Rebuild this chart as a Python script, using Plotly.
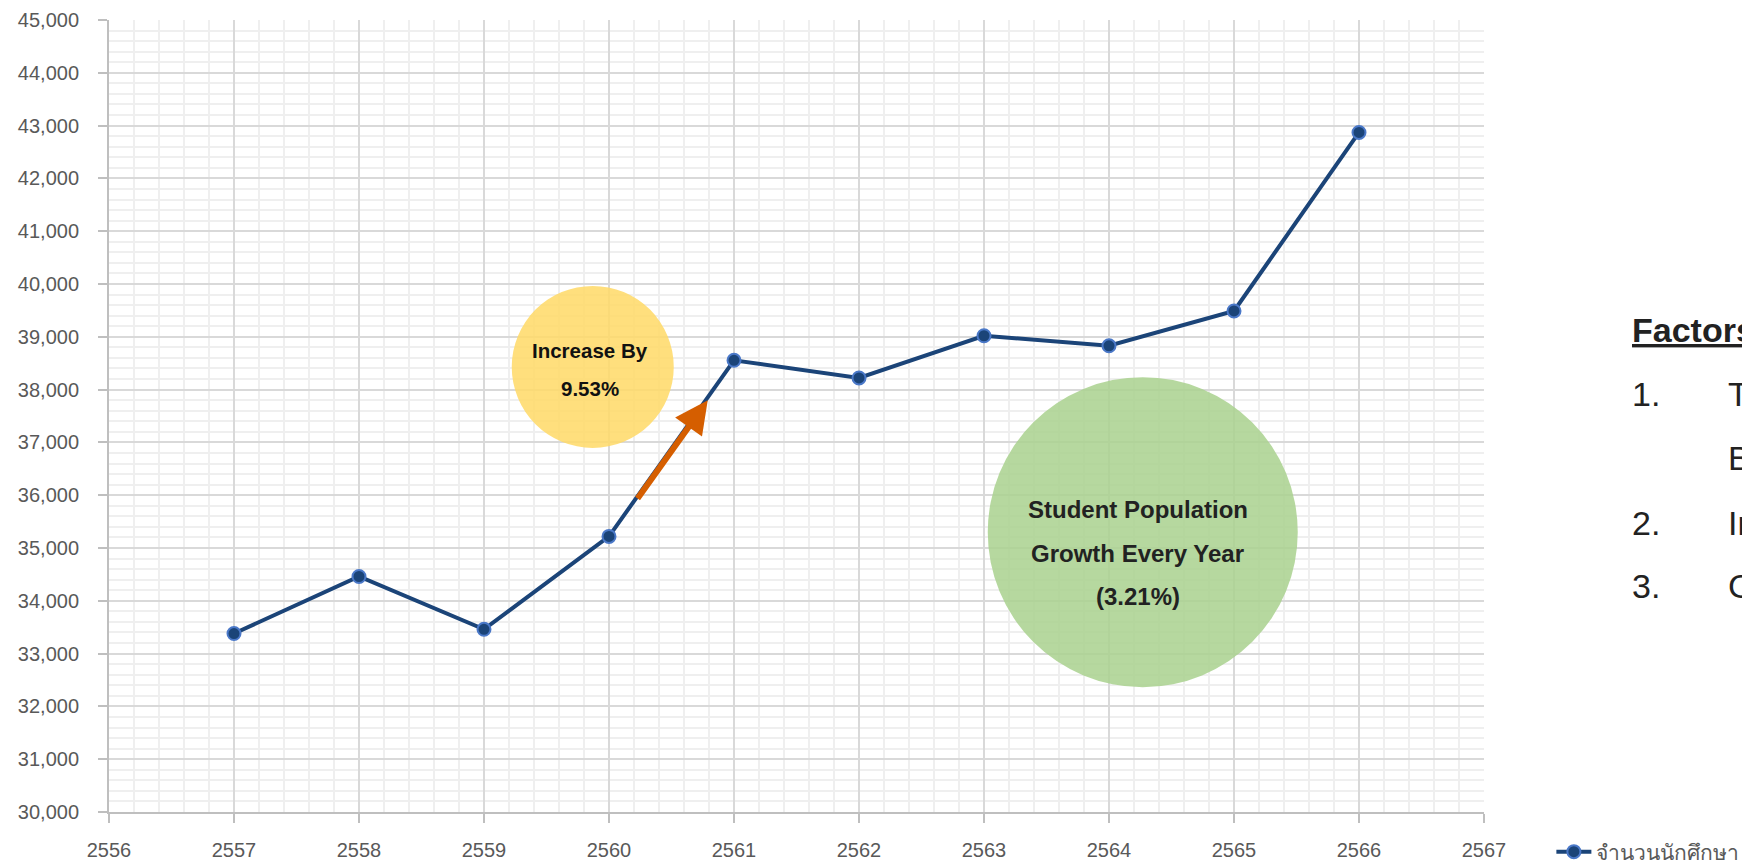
import plotly.graph_objects as go

years = [2557, 2558, 2559, 2560, 2561, 2562, 2563, 2564, 2565, 2566]
students = [33380, 34460, 33460, 35220, 38555, 38220, 39020, 38830, 39490, 42870]
series_name = "จำนวนนักศึกษา"

yellow_lines = ["Increase By", "9.53%"]
green_lines = ["Student Population", "Growth Every Year", "(3.21%)"]
factors_title = "Factors"
factor_nums = ["1.", "2.", "3."]
factor_items = ["T", "In", "C"]
factor_cont = "B"

fig = go.Figure()
fig.add_trace(go.Scatter(
    x=years, y=students, mode="lines+markers", name=series_name,
    line=dict(color="#1B4478", width=4),
    marker=dict(size=13, color="#1B4478", line=dict(color="#4A78C8", width=2)),
))

# circles
fig.add_shape(type="circle", xref="x", yref="y",
              x0=2559.870 - 0.648, x1=2559.870 + 0.648,
              y0=38430 - 1534, y1=38430 + 1534,
              fillcolor="#FFD966", opacity=0.85, line=dict(width=0), layer="above")
fig.add_shape(type="circle", xref="x", yref="y",
              x0=2564.27 - 1.24, x1=2564.27 + 1.24,
              y0=35300 - 2936, y1=35300 + 2936,
              fillcolor="#A9D18E", opacity=0.85, line=dict(width=0), layer="above")

for txt, yy in zip(yellow_lines, [38748, 38028]):
    fig.add_annotation(x=2559.85, y=yy, xref="x", yref="y", text="<b>" + txt + "</b>",
                       showarrow=False, font=dict(family="Liberation Sans", size=20.5, color="#111111"))
for txt, yy in zip(green_lines, [35720, 34900, 34080]):
    fig.add_annotation(x=2564.23, y=yy, xref="x", yref="y", text="<b>" + txt + "</b>",
                       showarrow=False, font=dict(family="Liberation Sans", size=24, color="#222222"))

# arrow
fig.add_annotation(x=2560.79, y=37800, ax=2560.22, ay=35910, xref="x", yref="y",
                   axref="x", ayref="y", text="", showarrow=True,
                   arrowhead=2, arrowsize=1.1, arrowwidth=6, arrowcolor="#D55E00")

# factors text
tfont = dict(family="Liberation Sans", size=34, color="#222222")
fig.add_annotation(x=1.106, y=0.6085, xref="paper", yref="paper", xanchor="left", yanchor="middle",
                   text="<b><u>" + factors_title + "</u></b>", showarrow=False, font=tfont)
ys = [0.5275, 0.3645, 0.2855]
for n, it, yy in zip(factor_nums, factor_items, ys):
    fig.add_annotation(x=1.106, y=yy, xref="paper", yref="paper", xanchor="left", yanchor="middle",
                       text=n, showarrow=False, font=tfont)
    fig.add_annotation(x=1.176, y=yy, xref="paper", yref="paper", xanchor="left", yanchor="middle",
                       text=it, showarrow=False, font=tfont)
fig.add_annotation(x=1.176, y=0.4465, xref="paper", yref="paper", xanchor="left", yanchor="middle",
                   text=factor_cont, showarrow=False, font=tfont)

tickfont = dict(family="Liberation Sans", size=20, color="#595959")
fig.update_xaxes(range=[2556, 2567], dtick=1, tick0=2556, showgrid=True, gridcolor="#d9d9d9", gridwidth=1.5,
                 minor=dict(dtick=0.2, showgrid=True, gridcolor="#efefef", gridwidth=1.5),
                 showline=True, linecolor="#bfbfbf", linewidth=2, ticks="outside", ticklen=9,
                 tickcolor="#bfbfbf", tickwidth=2, tickfont=tickfont, zeroline=False,
                 ticklabelstandoff=10)
fig.update_yaxes(range=[30000, 45000], dtick=1000, tickformat=",", showgrid=True, gridcolor="#d9d9d9",
                 gridwidth=1.5,
                 minor=dict(dtick=200, showgrid=True, gridcolor="#efefef", gridwidth=1.5),
                 showline=True, linecolor="#bfbfbf", linewidth=2, ticks="outside", ticklen=9,
                 tickcolor="#bfbfbf", tickwidth=2, tickfont=tickfont, zeroline=False,
                 ticklabelstandoff=15)

# page body has an 8px margin: shrink the figure so the plot lands where the reference has it
fig.update_layout(
    width=1742, height=855,
    margin=dict(l=101, r=266, t=12, b=51, autoexpand=False),
    paper_bgcolor="white", plot_bgcolor="white",
    showlegend=True,
    legend=dict(x=1.049, y=-0.0505, xanchor="left", yanchor="middle", itemwidth=35,
                font=dict(family="Noto Sans", size=21, color="#595959"),
                bgcolor="rgba(0,0,0,0)"),
)

fig.write_html("out.html")
